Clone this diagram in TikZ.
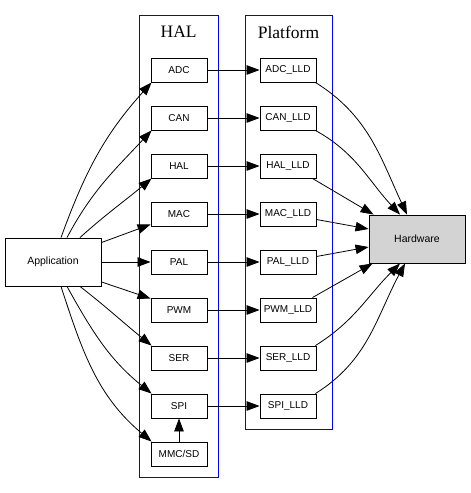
\documentclass[tikz,border=0pt]{standalone}
\usepackage{fontspec}
\setmainfont{Liberation Serif}
\newfontfamily\nodefont{Liberation Sans}
\usetikzlibrary{arrows.meta}
\begin{document}
\begin{tikzpicture}[x=1pt,y=1pt,
  box/.style={draw,line width=0.9pt,minimum width=56pt,minimum height=24pt,inner sep=0pt,font=\nodefont\fontsize{10}{12}\selectfont},
  bigbox/.style={draw,line width=0.9pt,minimum width=96pt,minimum height=48pt,inner sep=0pt,font=\nodefont\fontsize{10.5}{12}\selectfont},
  cluster/.style={draw=blue,line width=0.9pt},
  title/.style={font=\fontsize{17.5}{20}\selectfont},
  edge/.style={draw,line width=0.8pt,-{Triangle[length=13pt,width=9.5pt]}}]
\useasboundingbox (0,0) rectangle (471,493);
% clusters
\draw[cluster] (139,15.7) rectangle (218.5,477.3);
\draw[cluster] (245,63.7) rectangle (332,477.3);
\node[title] (haltitle) at (178.7,461) {HAL};
\node[title] (plattitle) at (288.5,461) {Platform};
% application and hardware
\node[bigbox] (app) at (53,231) {Application};
\node[bigbox,fill={rgb,255:red,211;green,211;blue,211}] (hw) at (417,254) {Hardware};
% HAL nodes
\node[box] (adc) at (179,423) {ADC};
\node[box] (can) at (179,375) {CAN};
\node[box] (hal) at (179,327) {HAL};
\node[box] (mac) at (179,279) {MAC};
\node[box] (pal) at (179,231) {PAL};
\node[box] (pwm) at (179,183) {PWM};
\node[box] (ser) at (179,135) {SER};
\node[box] (spi) at (179,87) {SPI};
\node[box] (mmc) at (179,39) {MMC/SD};
% Platform nodes
\node[box] (adcl) at (288,423) {ADC\_LLD};
\node[box] (canl) at (288,375) {CAN\_LLD};
\node[box] (hall) at (288,327) {HAL\_LLD};
\node[box] (macl) at (288,279) {MAC\_LLD};
\node[box] (pall) at (288,231) {PAL\_LLD};
\node[box] (pwml) at (288,183) {PWM\_LLD};
\node[box] (serl) at (288,135) {SER\_LLD};
\node[box] (spil) at (288,87) {SPI\_LLD};
% application -> HAL
\draw[edge] ([xshift=8pt]app.north) to[out=70,in=-132] ([xshift=1pt]adc.south west);
\draw[edge] ([xshift=14pt]app.north) to[out=62,in=-133] ([xshift=1pt]can.south west);
\draw[edge] ([xshift=27pt]app.north) to[out=42,in=-140] ([xshift=1pt]hal.south west);
\draw[edge] ([yshift=-5pt]app.north east) -- ([yshift=2pt]mac.south west);
\draw[edge] (app.east) -- (pal.west);
\draw[edge] ([yshift=4.5pt]app.south east) -- ([yshift=-1pt]pwm.north west);
\draw[edge] ([xshift=27pt]app.south) to[out=-38,in=141] ([xshift=1pt]ser.north west);
\draw[edge] ([xshift=14pt]app.south) to[out=-61,in=141] ([xshift=1pt]spi.north west);
\draw[edge] ([xshift=8pt]app.south) to[out=-72,in=140] ([xshift=1pt]mmc.north west);
\draw[edge] (mmc.north) -- (spi.south);
% HAL -> Platform
\draw[edge] (adc.east) -- (adcl.west);
\draw[edge] (can.east) -- (canl.west);
\draw[edge] (hal.east) -- (hall.west);
\draw[edge] (mac.east) -- (macl.west);
\draw[edge] (pal.east) -- (pall.west);
\draw[edge] (pwm.east) -- (pwml.west);
\draw[edge] (ser.east) -- (serl.west);
\draw[edge] (spi.east) -- (spil.west);
% Platform -> Hardware
\draw[edge] ([xshift=-1pt]adcl.south east) to[out=-32,in=115] ([xshift=-10pt]hw.north);
\draw[edge] ([xshift=-1pt]canl.south east) to[out=-29,in=133] ([xshift=-17pt]hw.north);
\draw[edge] ([xshift=-4pt]hall.south east) -- ([xshift=5pt]hw.north west);
\draw[edge] ([yshift=-5.5pt]macl.east) -- ([yshift=10pt]hw.west);
\draw[edge] ([yshift=5.5pt]pall.east) -- ([yshift=-8pt]hw.west);
\draw[edge] ([xshift=-4pt]pwml.north east) -- ([xshift=4pt]hw.south west);
\draw[edge] ([xshift=-1pt]serl.north east) to[out=32,in=-135] ([xshift=-17pt]hw.south);
\draw[edge] ([xshift=-1pt]spil.north east) to[out=32,in=-118] ([xshift=-12pt]hw.south);
\end{tikzpicture}
\end{document}
